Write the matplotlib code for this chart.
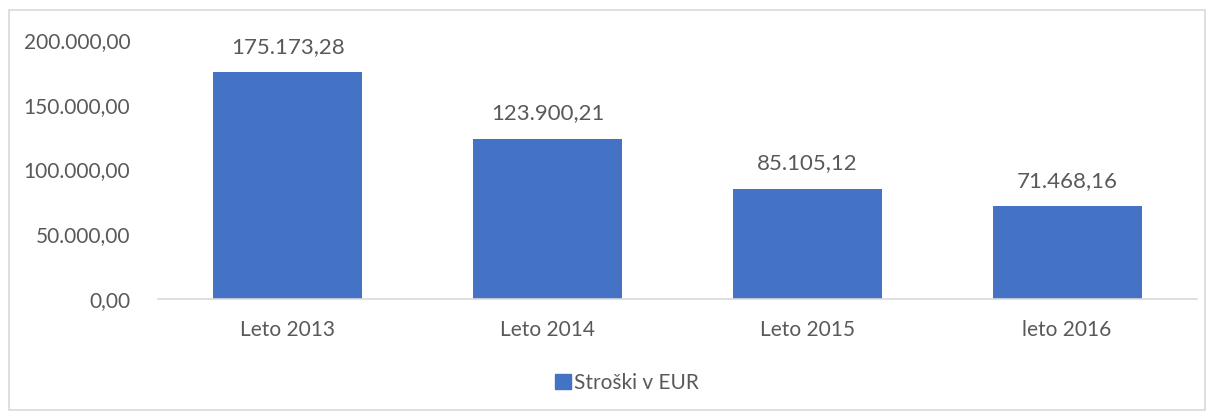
import matplotlib
matplotlib.use("Agg")
import matplotlib.pyplot as plt
from matplotlib.patches import Rectangle, Patch

categories = ["Leto 2013", "Leto 2014", "Leto 2015", "leto 2016"]
values = [175173.28, 123900.21, 85105.12, 71468.16]
value_labels = ["175.173,28", "123.900,21", "85.105,12", "71.468,16"]
yticks = [0, 50000, 100000, 150000, 200000]
ytick_labels = ["0,00", "50.000,00", "100.000,00", "150.000,00", "200.000,00"]
series_name = "Stroški v EUR"

plt.rcParams['font.family'] = ['Lato', 'DejaVu Sans']
txt = "#595959"
bar_color = "#4472C4"

fig = plt.figure(figsize=(12.15, 4.16), dpi=100)
ax = fig.add_axes([158/1215, 1-299/416, (1197-158)/1215, (299-40)/416])

x = list(range(len(categories)))
ax.bar(x, values, width=0.574, color=bar_color, zorder=2)
ax.set_xlim(-0.5, len(categories)-0.5)
ax.set_ylim(0, 200000)
ax.set_yticks(yticks)
ax.set_yticklabels(ytick_labels)
ax.set_xticks(x)
ax.set_xticklabels(categories)
ax.tick_params(axis='both', length=0, labelsize=15, colors=txt)
ax.tick_params(axis='y', pad=20)
ax.tick_params(axis='x', pad=15)
for s in ['top', 'right', 'left']:
    ax.spines[s].set_visible(False)
ax.spines['bottom'].set_color("#D9D9D9")
ax.spines['bottom'].set_linewidth(1.2)

for xi, v, lab in zip(x, values, value_labels):
    ax.annotate(lab, (xi, v), xytext=(0, 11), textcoords='offset points',
                ha='center', va='bottom', fontsize=16, color=txt)

fig.legend(handles=[Patch(color=bar_color, label=series_name)],
           loc='center', bbox_to_anchor=(627/1215, 1-383/416), frameon=False,
           fontsize=15, labelcolor=txt, handlelength=0.75, handleheight=0.75,
           handletextpad=0.15)

fig.add_artist(Rectangle((9/1215, 6/416), 1196/1215, 400/416, transform=fig.transFigure,
                         fill=False, edgecolor="#D9D9D9", linewidth=1.2))

fig.savefig("out.png", dpi=100)
